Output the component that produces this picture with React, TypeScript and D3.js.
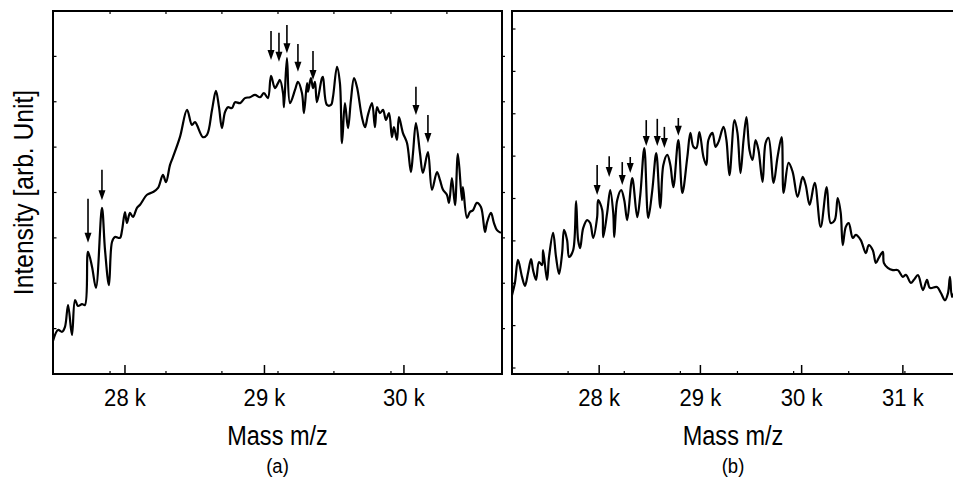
import * as d3 from 'd3';

// panel (a) spectrum, mass in k, intensity arb.
const massA = [27.484, 27.52, 27.549, 27.57, 27.592, 27.62, 27.642, 27.663, 27.692, 27.713, 27.735, 27.764, 27.792, 27.835, 27.857, 27.885, 27.907, 27.928, 27.964, 27.979, 28.0, 28.014, 28.036, 28.057, 28.086, 28.108, 28.158, 28.201, 28.237, 28.272, 28.294, 28.323, 28.344, 28.394, 28.445, 28.48, 28.502, 28.559, 28.588, 28.624, 28.652, 28.674, 28.695, 28.717, 28.738, 28.767, 28.789, 28.825, 28.86, 28.896, 28.932, 28.968, 28.996, 29.025, 29.047, 29.075, 29.097, 29.111, 29.133, 29.14, 29.161, 29.183, 29.219, 29.24, 29.269, 29.283, 29.305, 29.312, 29.333, 29.348, 29.362, 29.376, 29.412, 29.419, 29.448, 29.477, 29.491, 29.52, 29.541, 29.556, 29.577, 29.599, 29.62, 29.642, 29.663, 29.699, 29.721, 29.742, 29.771, 29.792, 29.807, 29.828, 29.85, 29.871, 29.893, 29.914, 29.928, 29.95, 29.964, 29.993, 30.022, 30.05, 30.065, 30.086, 30.115, 30.136, 30.172, 30.201, 30.237, 30.258, 30.28, 30.308, 30.323, 30.344, 30.366, 30.387, 30.416, 30.423, 30.452, 30.473, 30.495, 30.523, 30.552, 30.581, 30.595, 30.624, 30.645, 30.667, 30.695];
const intensityA = [0.73, 0.97, 0.93, 1.04, 1.52, 0.86, 1.63, 1.5, 1.54, 1.52, 2.69, 2.36, 1.9, 3.66, 2.73, 1.96, 2.91, 3.02, 3.0, 3.17, 3.57, 3.33, 3.55, 3.46, 3.66, 3.73, 3.95, 4.01, 4.1, 4.39, 4.23, 4.61, 4.78, 5.22, 5.82, 5.49, 5.55, 5.22, 5.27, 5.82, 6.24, 5.88, 5.42, 5.77, 5.88, 5.86, 5.99, 5.97, 6.08, 6.1, 6.15, 6.1, 6.19, 6.08, 6.57, 6.3, 6.41, 6.48, 6.19, 5.88, 6.96, 5.97, 6.26, 6.44, 6.19, 5.75, 6.41, 6.22, 6.52, 6.3, 6.44, 5.99, 6.52, 6.55, 5.93, 5.93, 6.1, 6.77, 6.41, 5.09, 5.97, 5.42, 6.04, 6.52, 6.33, 5.66, 5.44, 5.71, 5.97, 5.44, 5.88, 5.75, 5.82, 5.6, 5.75, 5.22, 5.44, 5.16, 5.66, 5.31, 5.09, 4.45, 4.87, 5.53, 4.87, 4.43, 4.89, 4.06, 4.45, 4.28, 4.06, 3.95, 3.77, 4.32, 3.72, 4.85, 3.83, 4.12, 3.44, 3.57, 3.61, 3.77, 3.68, 3.13, 3.33, 3.55, 3.33, 3.17, 3.11];

// panel (b) spectrum
const massB = [27.139, 27.168, 27.198, 27.238, 27.267, 27.297, 27.327, 27.347, 27.376, 27.406, 27.436, 27.446, 27.485, 27.505, 27.545, 27.574, 27.604, 27.634, 27.653, 27.683, 27.703, 27.743, 27.772, 27.792, 27.812, 27.842, 27.881, 27.911, 27.941, 27.98, 27.99, 28.03, 28.04, 28.079, 28.109, 28.139, 28.149, 28.178, 28.218, 28.248, 28.277, 28.327, 28.376, 28.406, 28.446, 28.485, 28.525, 28.564, 28.604, 28.634, 28.673, 28.703, 28.733, 28.782, 28.822, 28.871, 28.901, 28.931, 28.96, 28.99, 29.03, 29.059, 29.079, 29.119, 29.149, 29.178, 29.228, 29.257, 29.287, 29.337, 29.366, 29.396, 29.426, 29.455, 29.485, 29.515, 29.545, 29.574, 29.614, 29.644, 29.673, 29.723, 29.762, 29.802, 29.822, 29.871, 29.911, 29.96, 30.01, 30.04, 30.079, 30.129, 30.188, 30.248, 30.287, 30.327, 30.356, 30.386, 30.406, 30.436, 30.465, 30.505, 30.535, 30.584, 30.634, 30.663, 30.703, 30.733, 30.762, 30.802, 30.812, 30.851, 30.901, 30.95, 31.0, 31.03, 31.079, 31.109, 31.149, 31.198, 31.238, 31.267, 31.337, 31.376, 31.416, 31.446, 31.465, 31.485, 31.505];
const intensityB = [1.72, 2.01, 2.55, 2.15, 1.94, 2.24, 2.57, 2.31, 2.08, 2.5, 2.43, 2.78, 2.08, 2.62, 3.19, 2.62, 2.22, 2.71, 3.26, 3.02, 2.62, 2.78, 3.94, 3.02, 2.83, 3.3, 3.49, 3.42, 3.07, 3.56, 3.96, 3.73, 3.09, 3.66, 4.2, 3.66, 3.09, 3.96, 4.2, 3.96, 3.49, 4.48, 3.56, 4.08, 5.19, 3.54, 4.2, 5.07, 3.78, 4.79, 5.03, 4.79, 4.27, 5.38, 4.13, 4.98, 5.55, 5.22, 5.19, 5.57, 4.98, 4.79, 5.38, 5.55, 5.22, 5.33, 5.69, 5.38, 4.55, 5.85, 5.55, 4.6, 5.38, 5.92, 5.14, 4.91, 5.38, 5.14, 4.39, 5.31, 5.43, 4.37, 4.98, 5.45, 4.13, 4.84, 4.63, 4.04, 4.51, 4.32, 3.85, 4.37, 3.33, 4.27, 3.42, 3.49, 4.01, 3.66, 2.9, 3.33, 3.42, 3.07, 3.14, 3.02, 2.71, 2.9, 2.78, 2.48, 2.6, 2.74, 2.48, 2.36, 2.31, 2.31, 2.15, 2.2, 2.01, 2.08, 2.19, 1.84, 2.08, 1.89, 1.91, 1.77, 1.6, 1.77, 2.15, 1.68, 1.77];

// arrows: [mass, top, tip] in intensity units
const arrowsA: [number, number, number][] = [
  [27.735, 3.86, 2.89], [27.835, 4.5, 3.83], [29.047, 7.56, 6.92], [29.104, 7.52, 6.88],
  [29.161, 7.69, 7.07], [29.24, 7.27, 6.66], [29.348, 7.12, 6.48], [30.086, 6.33, 5.71], [30.172, 5.71, 5.09],
];
const arrowsB: [number, number, number][] = [
  [27.98, 4.79, 4.08], [28.099, 5.0, 4.51], [28.228, 4.86, 4.32], [28.307, 4.98, 4.6],
  [28.465, 5.85, 5.24], [28.574, 5.88, 5.24], [28.644, 5.69, 5.19], [28.782, 5.9, 5.48],
];

const majorA = [28, 29, 30];
const majorB = [28, 29, 30, 31];
const minorA = [27.893, 28.294, 28.695, 29.097, 29.498, 29.907, 30.308];
const minorB = [27.693, 28.248, 28.802, 29.366, 29.921, 30.465, 31.02];
const yTicksA = [1, 2, 3, 4, 5, 6, 7];
const yTicksB = [0, 1, 2, 3, 4, 5, 6, 7, 8];

const FONT = 'Liberation Sans, Arial, sans-serif';
const TOP = 11, BOTTOM = 374;

function Arrow({ x, y0, y1 }: { x: number; y0: number; y1: number }) {
  return (
    <g>
      <line x1={x} x2={x} y1={y0} y2={y1 - 7} stroke="#000" strokeWidth={1.6} />
      <path d={`M${x - 3.5},${y1 - 10}L${x + 3.5},${y1 - 10}L${x},${y1}Z`} fill="#000" />
    </g>
  );
}

function Panel({ mass, inten, arrows, major, minor, yTicks, xDomain, yDomain, left, right, label, topTicks, rightTicks, id }: any) {
  const x = d3.scaleLinear().domain(xDomain).range([left, right]);
  const y = d3.scaleLinear().domain(yDomain).range([BOTTOM, TOP]);
  const pts: [number, number][] = mass.map((m: number, i: number) => [m, inten[i]]);
  const line = d3.line<[number, number]>().x(d => x(d[0])).y(d => y(d[1])).curve(d3.curveCatmullRom.alpha(0.5));
  const cx = (left + right) / 2;
  return (
    <g>
      <defs>
        <clipPath id={id}>
          <rect x={left} y={TOP} width={right - left} height={BOTTOM - TOP} />
        </clipPath>
      </defs>
      <path d={line(pts) || ''} fill="none" stroke="#000" strokeWidth={2.2} strokeLinejoin="round" clipPath={`url(#${id})`} />
      {arrows.map((a: [number, number, number], i: number) => (
        <Arrow key={i} x={x(a[0])} y0={y(a[1])} y1={y(a[2])} />
      ))}
      <rect x={left} y={TOP} width={right - left} height={BOTTOM - TOP} fill="none" stroke="#000" strokeWidth={2} />
      {yTicks.map((t: number) => (
        <line key={'l' + t} x1={left} x2={left + 3.5} y1={y(t)} y2={y(t)} stroke="#000" strokeWidth={1.2} />
      ))}
      {rightTicks && yTicks.map((t: number) => (
        <line key={'r' + t} x1={right} x2={right + 3} y1={y(t)} y2={y(t)} stroke="#000" strokeWidth={1.2} />
      ))}
      {minor.map((t: number) => (
        <line key={'m' + t} x1={x(t)} x2={x(t)} y1={BOTTOM} y2={BOTTOM - 3} stroke="#000" strokeWidth={1.2} />
      ))}
      {topTicks && minor.map((t: number) => (
        <line key={'t' + t} x1={x(t)} x2={x(t)} y1={TOP} y2={TOP + 3} stroke="#000" strokeWidth={1.2} />
      ))}
      {major.map((t: number) => (
        <g key={'M' + t}>
          <line x1={x(t)} x2={x(t)} y1={BOTTOM} y2={BOTTOM - 9} stroke="#000" strokeWidth={1.5} />
          <text transform={`translate(${x(t)},406) scale(0.92,1)`} textAnchor="middle" fontSize={24} fontFamily={FONT}>{`${t} k`}</text>
        </g>
      ))}
      <text transform={`translate(${cx},445) scale(0.84,1)`} textAnchor="middle" fontSize={28} fontFamily={FONT}>Mass m/z</text>
      <text transform={`translate(${cx},473) scale(0.88,1)`} textAnchor="middle" fontSize={21} fontFamily={FONT}>{label}</text>
    </g>
  );
}

export default function App() {
  return (
    <div style={{ position: 'absolute', left: 0, top: 0 }}>
      <svg width={953} height={484} style={{ display: 'block', background: '#fff' }}>
        <Panel id="clipA" mass={massA} inten={intensityA} arrows={arrowsA} major={majorA} minor={minorA} yTicks={yTicksA}
          xDomain={[27.484, 30.703]} yDomain={[0, 8]} left={53} right={502} label="(a)" topTicks rightTicks />
        <Panel id="clipB" mass={massB} inten={intensityB} arrows={arrowsB} major={majorB} minor={minorB} yTicks={yTicksB}
          xDomain={[27.139, 31.505]} yDomain={[-0.1416, 8.425]} left={512} right={954} label="(b)" />
        <text transform={`translate(33,${(TOP + BOTTOM) / 2}) rotate(-90) scale(0.88,1)`} textAnchor="middle" fontSize={28} fontFamily={FONT}>
          Intensity [arb. Unit]
        </text>
      </svg>
    </div>
  );
}
